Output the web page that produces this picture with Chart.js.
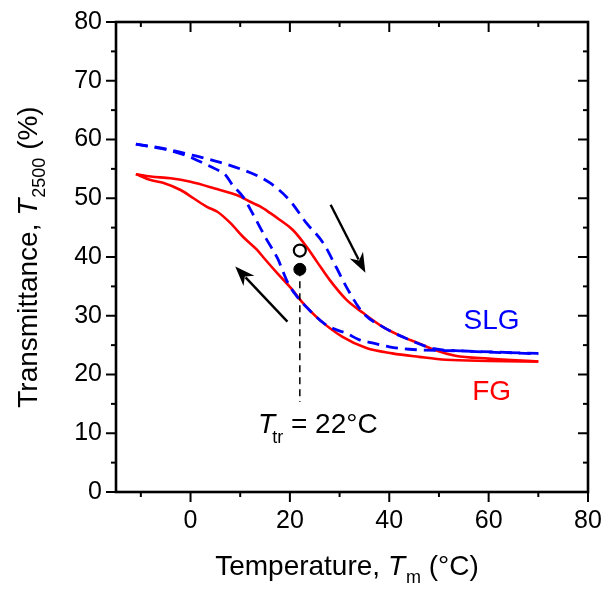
<!DOCTYPE html>
<html><head><meta charset="utf-8">
<script src="https://cdn.jsdelivr.net/npm/chart.js@4.4.1/dist/chart.umd.min.js"></script>
<style>html,body{margin:0;padding:0;background:#fff}#wrap{width:605px;height:590px;position:relative}</style>
</head><body><div id="wrap"><canvas id="c" width="605" height="590"></canvas></div>
<script>
// ---- data (temperature °C, transmittance %) ----
const slgHeatT = [-11, -5, -1, 3, 6, 10, 13, 16, 20, 23.3, 26.7, 29.3, 31.7, 34.7, 38.7, 42.7, 49, 55, 60, 70];
const slgHeatV = [59.2, 58.4, 57.6, 56.8, 56.1, 55.0, 54.0, 52.6, 49.6, 45.8, 42.4, 38.3, 34.4, 30.5, 28.1, 26.4, 24.4, 24.0, 23.8, 23.6];
const slgCoolT = [-11, -5, -1, 2, 5, 7, 8.4, 10.6, 12.5, 15.3, 17.5, 19.6, 21.4, 24, 27, 29.4, 31.4, 34, 37, 40, 44, 55, 62, 70];
const slgCoolV = [59.2, 58.3, 57.3, 56.2, 55.0, 54.0, 52.3, 50.2, 47.4, 43.0, 39.8, 35.6, 33.3, 30.9, 28.6, 27.6, 27.0, 25.9, 25.3, 24.7, 24.3, 24.0, 23.8, 23.5];
const fgHeatT = [-11, -8, -4, 0, 4.7, 10, 12, 14, 16, 18, 20.6, 23.4, 25.6, 28, 31.4, 34.7, 38.7, 42.7, 46, 49, 53.3, 60, 70];
const fgHeatV = [54.1, 53.7, 53.4, 52.8, 51.7, 50.3, 49.4, 48.6, 47.5, 46.3, 44.6, 41.7, 39.0, 36.1, 32.7, 30.5, 28.1, 26.4, 25.3, 24.2, 23.2, 22.7, 22.2];
const fgCoolT = [-11, -8, -5.4, -2, 0.6, 3.4, 5.4, 8, 10.6, 13.4, 14.6, 17.4, 20, 22.6, 26, 30.6, 35.4, 40.6, 46, 51.4, 60, 70];
const fgCoolV = [54.1, 53.1, 52.6, 51.4, 50.0, 48.5, 47.7, 45.8, 43.4, 41.2, 40.0, 37.3, 34.9, 32.2, 29.3, 26.4, 24.5, 23.6, 23.0, 22.5, 22.3, 22.2];
const trT = 22;
const openPointV = 41.1;
const filledPointV = 37.9;
const dropLineV = [37.9, 15.3];
const xTickVals = [0, 20, 40, 60, 80];
const yTickVals = [0, 10, 20, 30, 40, 50, 60, 70, 80];
const heatArrow = [[28.2, 48.9], [35.2, 37.3]];
const coolArrow = [[19.5, 29.0], [9.0, 38.4]];

const FONT = "'Liberation Sans', Arial, sans-serif";
const zip = (a, b) => a.map((v, i) => ({x: v, y: b[i]}));

function drawRich(ctx, parts, x, y, align) {
  let w = 0;
  parts.forEach(p => { ctx.font = p.font; p.w = ctx.measureText(p.t).width; w += p.w + (p.kern || 0); });
  let cx = align === 'center' ? x - w / 2 : x;
  ctx.textAlign = 'left'; ctx.textBaseline = 'alphabetic';
  parts.forEach(p => { ctx.font = p.font; ctx.fillStyle = p.color || '#000'; cx += (p.kern || 0); ctx.fillText(p.t, cx, y + (p.dy || 0)); cx += p.w; });
}
function arrow(ctx, x1, y1, x2, y2) {
  const ang = Math.atan2(y2 - y1, x2 - x1), L = 20, W = 7.5;
  const bx = x2 - L * Math.cos(ang), by = y2 - L * Math.sin(ang);
  ctx.beginPath(); ctx.moveTo(x1, y1); ctx.lineTo(bx + 5 * Math.cos(ang), by + 5 * Math.sin(ang)); ctx.stroke();
  ctx.beginPath(); ctx.moveTo(x2, y2);
  ctx.lineTo(bx + W * Math.sin(ang), by - W * Math.cos(ang));
  ctx.lineTo(bx + 6 * Math.cos(ang), by + 6 * Math.sin(ang));
  ctx.lineTo(bx - W * Math.sin(ang), by + W * Math.cos(ang));
  ctx.closePath(); ctx.fill();
}

const deco = {
  id: 'deco',
  afterDraw(chart) {
    const {ctx, chartArea: a, scales: {x, y}} = chart;
    ctx.save();
    ctx.strokeStyle = '#000'; ctx.fillStyle = '#000'; ctx.lineWidth = 2;
    const ln = (x1, y1, x2, y2) => { ctx.beginPath(); ctx.moveTo(x1, y1); ctx.lineTo(x2, y2); ctx.stroke(); };
    for (let v = 0; v <= 80; v += 5) {
      const py = y.getPixelForValue(v), L = v % 10 === 0 ? 10 : 5;
      ln(a.left - L, py, a.left, py); ln(a.right, py, a.right - L, py);
    }
    for (let v = -10; v <= 80; v += 10) {
      const px = x.getPixelForValue(v), L = v % 20 === 0 ? 10 : 5;
      ln(px, a.bottom, px, a.bottom + L); ln(px, a.top, px, a.top + L);
    }
    ctx.lineWidth = 2.6;
    ctx.strokeRect(a.left, a.top, a.right - a.left, a.bottom - a.top);
    // arrows
    ctx.lineWidth = 2.4;
    [heatArrow, coolArrow].forEach(ar => arrow(ctx, x.getPixelForValue(ar[0][0]), y.getPixelForValue(ar[0][1]), x.getPixelForValue(ar[1][0]), y.getPixelForValue(ar[1][1])));
    // labels
    const F = s => s + 'px ' + FONT, FI = s => 'italic ' + s + 'px ' + FONT;
    drawRich(ctx, [{t: 'SLG', font: F(28), color: '#0000ff'}], x.getPixelForValue(60.6), y.getPixelForValue(27.7), 'center');
    drawRich(ctx, [{t: 'FG', font: F(28), color: '#ff0000'}], x.getPixelForValue(60.6), y.getPixelForValue(15.7), 'center');
    drawRich(ctx, [{t: 'T', font: FI(28)}, {t: 'tr', font: F(18), dy: 10, kern: -3}, {t: ' = 22\u00B0C', font: F(28)}],
      x.getPixelForValue(13.6), y.getPixelForValue(10.1), 'left');
    // axis titles
    drawRich(ctx, [{t: 'Temperature, ', font: F(28)}, {t: 'T', font: FI(28)}, {t: 'm', font: F(18), dy: 8, kern: 1}, {t: ' (\u00B0C)', font: F(28)}],
      347, 575, 'center');
    ctx.save();
    ctx.translate(37, 257); ctx.rotate(-Math.PI / 2);
    drawRich(ctx, [{t: 'Transmittance, ', font: F(28)}, {t: 'T', font: FI(28)}, {t: '2500', font: F(18), dy: 8, kern: 1}, {t: ' (%)', font: F(28)}], 0, 0, 'center');
    ctx.restore();
    ctx.restore();
  }
};

const lineDs = (t, v, color, dash) => ({
  data: zip(t, v), showLine: true, borderColor: color, borderWidth: dash ? 2.8 : 2.6,
  borderDash: dash || [], pointRadius: 0, cubicInterpolationMode: 'monotone', fill: false
});

new Chart(document.getElementById('c'), {
  type: 'scatter',
  data: {
    datasets: [
      {data: [{x: trT, y: openPointV}], pointRadius: 6, pointBackgroundColor: '#fff', pointBorderColor: '#000', pointBorderWidth: 2.2},
      {data: [{x: trT, y: filledPointV}], pointRadius: 6, pointBackgroundColor: '#000', pointBorderColor: '#000', pointBorderWidth: 1},
      {data: dropLineV.map(v => ({x: trT, y: v})), showLine: true, borderColor: '#000', borderWidth: 1.5, borderDash: [7, 5], pointRadius: 0},
      lineDs(slgHeatT, slgHeatV, '#0000ff', [12, 7]),
      lineDs(slgCoolT, slgCoolV, '#0000ff', [12, 7]),
      lineDs(fgHeatT, fgHeatV, '#ff0000'),
      lineDs(fgCoolT, fgCoolV, '#ff0000')
    ]
  },
  options: {
    responsive: false, animation: false, devicePixelRatio: 1,
    layout: {padding: {left: 0, right: 17, top: 22, bottom: 0}},
    plugins: {legend: {display: false}, tooltip: {enabled: false}},
    scales: {
      x: {
        type: 'linear', min: -15, max: 80,
        grid: {display: false, drawTicks: false}, border: {display: false},
        afterBuildTicks: s => { s.ticks = xTickVals.map(v => ({value: v})); },
        afterFit: s => { s.height = 98; s.paddingLeft = 0; s.paddingRight = 0; s.paddingTop = 0; s.paddingBottom = 0; },
        ticks: {padding: 14, color: '#000', font: {family: FONT, size: 25}, maxRotation: 0, autoSkip: false}
      },
      y: {
        type: 'linear', min: 0, max: 80,
        grid: {display: false, drawTicks: false}, border: {display: false},
        afterBuildTicks: s => { s.ticks = yTickVals.map(v => ({value: v})); },
        afterFit: s => { s.width = 116; s.paddingLeft = 0; s.paddingRight = 0; s.paddingTop = 0; s.paddingBottom = 0; },
        ticks: {padding: 14, color: '#000', font: {family: FONT, size: 25}, autoSkip: false}
      }
    }
  },
  plugins: [deco]
});
</script></body></html>
